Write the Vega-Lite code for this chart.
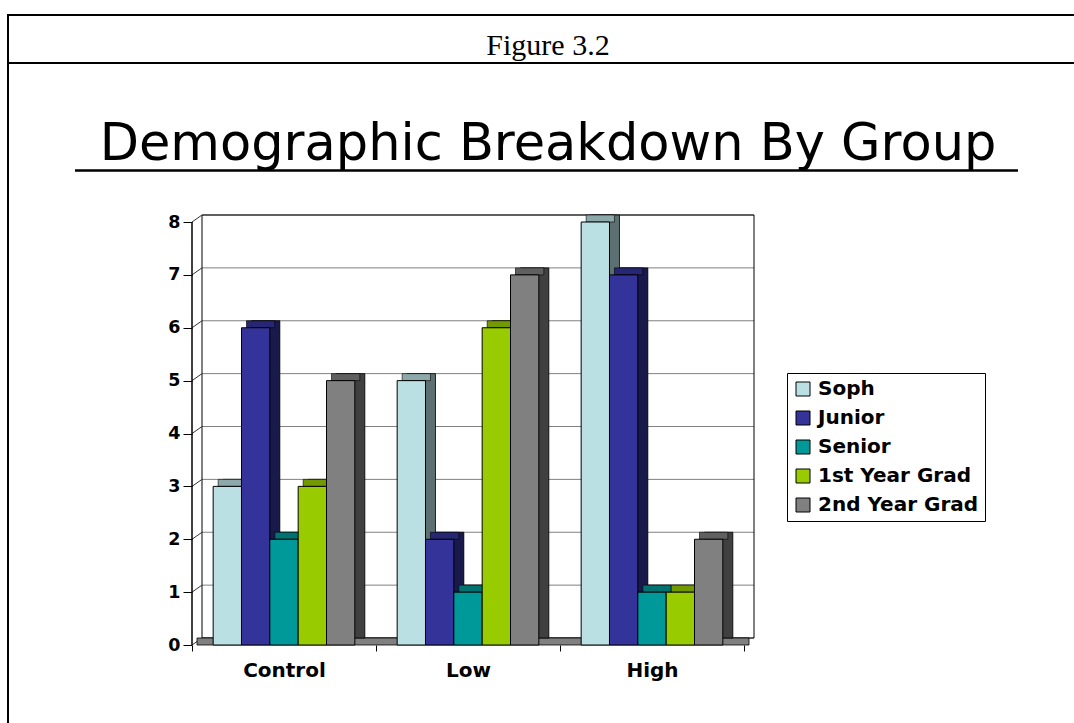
{
  "$schema": "https://vega.github.io/schema/vega-lite/v6.json",
  "background": "white",
  "padding": {"left": 7, "top": 14, "right": -15, "bottom": -3},
  "bounds": "flush",
  "spacing": 0,
  "config": {
    "view": {"stroke": "black", "strokeWidth": 2},
    "axis": {"labelFont": "DejaVu Sans", "labelFontWeight": "bold", "labelColor": "black", "tickColor": "black", "tickWidth": 1}
  },
  "datasets": {
    "bars": [
      {"group": "Control", "series": "Soph", "value": 3},
      {"group": "Control", "series": "Junior", "value": 6},
      {"group": "Control", "series": "Senior", "value": 2},
      {"group": "Control", "series": "1st Year Grad", "value": 3},
      {"group": "Control", "series": "2nd Year Grad", "value": 5},
      {"group": "Low", "series": "Soph", "value": 5},
      {"group": "Low", "series": "Junior", "value": 2},
      {"group": "Low", "series": "Senior", "value": 1},
      {"group": "Low", "series": "1st Year Grad", "value": 6},
      {"group": "Low", "series": "2nd Year Grad", "value": 7},
      {"group": "High", "series": "Soph", "value": 8},
      {"group": "High", "series": "Junior", "value": 7},
      {"group": "High", "series": "Senior", "value": 1},
      {"group": "High", "series": "1st Year Grad", "value": 1},
      {"group": "High", "series": "2nd Year Grad", "value": 2}
    ],
    "grid": [{"v": 0}, {"v": 1}, {"v": 2}, {"v": 3}, {"v": 4}, {"v": 5}, {"v": 6}, {"v": 7}, {"v": 8}],
    "hdr": [{"t": "Figure 3.2"}]
  },
  "vconcat": [
    {
      "width": 1080,
      "height": 48,
      "view": {"stroke": "black", "strokeWidth": 2},
      "data": {"name": "hdr"},
      "mark": {"type": "text", "font": "Liberation Serif", "fontSize": 30, "baseline": "alphabetic", "dy": 16, "color": "black"},
      "encoding": {
        "x": {"datum": 0.5, "type": "quantitative", "scale": {"domain": [0, 1], "nice": false, "zero": false}, "axis": null},
        "y": {"datum": 0.5, "type": "quantitative", "scale": {"domain": [0, 1], "nice": false, "zero": false}, "axis": null},
        "text": {"field": "t", "type": "nominal"}
      }
    },
    {
      "width": 1080,
      "height": 662,
      "title": {"text": "Demographic Breakdown By Group", "font": "DejaVu Sans", "fontSize": 51, "fontWeight": "normal", "color": "black", "anchor": "middle", "frame": "group", "baseline": "alphabetic", "offset": -148},
      "resolve": {"scale": {"x": "independent", "y": "independent", "color": "independent"}},
      "layer": [
        {
          "data": {"name": "grid"},
          "mark": {"type": "rule", "color": "#808080", "strokeWidth": 1},
          "encoding": {
            "x": {"datum": 0, "type": "quantitative", "scale": {"domain": [0, 1], "range": [194, 746], "nice": false, "zero": false}, "axis": null},
            "x2": {"datum": 1},
            "y": {"field": "v", "type": "quantitative", "scale": {"domain": [0, 8], "range": [575, 152], "nice": false, "zero": false}, "axis": null}
          }
        },
        {
          "data": {"name": "hdr"},
          "mark": {"type": "rect", "fill": "white", "fillOpacity": 0, "stroke": "black", "strokeWidth": 1},
          "encoding": {
            "x": {"datum": 0, "type": "quantitative", "scale": {"domain": [0, 1], "range": [194, 746], "nice": false, "zero": false}, "axis": null},
            "x2": {"datum": 1},
            "y": {"datum": 0, "type": "quantitative", "scale": {"domain": [0, 8], "range": [575, 152], "nice": false, "zero": false}, "axis": null},
            "y2": {"datum": 8}
          }
        },
        {
          "data": {"name": "grid"},
          "mark": {"type": "rule", "color": "#333333", "strokeWidth": 1, "yOffset": 7},
          "encoding": {
            "x": {"datum": 0, "type": "quantitative", "scale": {"domain": [0, 1], "range": [184, 194], "nice": false, "zero": false}, "axis": null},
            "x2": {"datum": 1},
            "y": {"field": "v", "type": "quantitative", "scale": {"domain": [0, 8], "range": [575, 152], "nice": false, "zero": false}, "axis": null},
            "y2": {"field": "v"}
          }
        },
        {
          "data": {"name": "hdr"},
          "mark": {"type": "rule", "color": "black", "strokeWidth": 1.5, "yOffset": 7, "y2Offset": 7},
          "encoding": {
            "x": {"datum": 0, "type": "quantitative", "scale": {"domain": [0, 1], "range": [184, 194], "nice": false, "zero": false}, "axis": null},
            "y": {"datum": 0, "type": "quantitative", "scale": {"domain": [0, 8], "range": [575, 152], "nice": false, "zero": false}, "axis": null},
            "y2": {"datum": 8}
          }
        },
        {
          "data": {"name": "hdr"},
          "mark": {"type": "rect", "fill": "#808080", "stroke": "black", "strokeWidth": 0.8, "y2Offset": 7},
          "encoding": {
            "x": {"datum": 0, "type": "quantitative", "scale": {"domain": [0, 1], "range": [189, 741], "nice": false, "zero": false}, "axis": null},
            "x2": {"datum": 1},
            "y": {"datum": 0, "type": "quantitative", "scale": {"domain": [0, 8], "range": [575, 152], "nice": false, "zero": false}, "axis": null},
            "y2": {"datum": 0}
          }
        },
        {
          "data": {"name": "bars"},
          "mark": {"type": "bar", "stroke": "black", "strokeWidth": 0.8},
          "encoding": {
            "x": {"field": "group", "type": "nominal", "scale": {"domain": ["Control", "Low", "High"], "range": [194, 746], "paddingInner": 0, "paddingOuter": 0}, "axis": null},
            "xOffset": {"field": "series", "type": "nominal", "scale": {"domain": ["Soph", "Junior", "Senior", "1st Year Grad", "2nd Year Grad"], "range": [0, 184], "paddingInner": 0, "paddingOuter": 0.747}},
            "y": {"field": "value", "type": "quantitative", "scale": {"domain": [0, 8], "range": [575, 152], "nice": false, "zero": false}, "axis": null},
            "y2": {"datum": 0},
            "color": {"field": "series", "type": "nominal", "scale": {"domain": ["Soph", "Junior", "Senior", "1st Year Grad", "2nd Year Grad"], "range": ["#BBE0E3", "#333399", "#009999", "#99CC00", "#808080"]}, "legend": null}
          }
        },
        {
          "data": {"name": "bars"},
          "mark": {"type": "bar", "fill": "black", "fillOpacity": 0.5, "strokeWidth": 0},
          "encoding": {
            "x": {"field": "group", "type": "nominal", "scale": {"domain": ["Control", "Low", "High"], "range": [194, 746], "paddingInner": 0, "paddingOuter": 0}, "axis": null},
            "xOffset": {"field": "series", "type": "nominal"},
            "y": {"field": "value", "type": "quantitative", "scale": {"domain": [0, 8], "range": [575, 152], "nice": false, "zero": false}, "axis": null},
            "y2": {"datum": 0}
          }
        },
        {
          "data": {"name": "bars"},
          "mark": {"type": "bar", "stroke": "black", "strokeWidth": 0.6, "y2Offset": 7},
          "encoding": {
            "x": {"field": "group", "type": "nominal", "scale": {"domain": ["Control", "Low", "High"], "range": [189, 741], "paddingInner": 0, "paddingOuter": 0}, "axis": null},
            "xOffset": {"field": "series", "type": "nominal"},
            "y": {"field": "value", "type": "quantitative", "scale": {"domain": [0, 8], "range": [575, 152], "nice": false, "zero": false}, "axis": null},
            "y2": {"field": "value"},
            "color": {"field": "series", "type": "nominal", "scale": {"domain": ["Soph", "Junior", "Senior", "1st Year Grad", "2nd Year Grad"], "range": ["#BBE0E3", "#333399", "#009999", "#99CC00", "#808080"]}, "legend": null}
          }
        },
        {
          "data": {"name": "bars"},
          "mark": {"type": "bar", "fill": "black", "fillOpacity": 0.25, "strokeWidth": 0, "y2Offset": 7},
          "encoding": {
            "x": {"field": "group", "type": "nominal", "scale": {"domain": ["Control", "Low", "High"], "range": [189, 741], "paddingInner": 0, "paddingOuter": 0}, "axis": null},
            "xOffset": {"field": "series", "type": "nominal"},
            "y": {"field": "value", "type": "quantitative", "scale": {"domain": [0, 8], "range": [575, 152], "nice": false, "zero": false}, "axis": null},
            "y2": {"field": "value"}
          }
        },
        {
          "data": {"name": "bars"},
          "mark": {"type": "bar", "stroke": "black", "strokeWidth": 1, "yOffset": 7, "y2Offset": 7},
          "encoding": {
            "x": {"field": "group", "type": "nominal",
                  "scale": {"domain": ["Control", "Low", "High"], "range": [184, 736], "paddingInner": 0, "paddingOuter": 0},
                  "axis": {"orient": "bottom", "offset": -80, "domain": false, "grid": false, "tickBand": "extent", "tickSize": 6, "labelPadding": 9, "labelAngle": 0, "labelFontSize": 20, "title": null}},
            "xOffset": {"field": "series", "type": "nominal"},
            "y": {"field": "value", "type": "quantitative", "scale": {"domain": [0, 8], "range": [575, 152], "nice": false, "zero": false},
                  "axis": {"orient": "left", "offset": -184, "values": [0, 1, 2, 3, 4, 5, 6, 7, 8], "format": "d", "domain": false, "grid": false, "ticks": true, "labels": true, "labelOverlap": false, "tickSize": 9, "tickOffset": 7, "labelOffset": 0, "labelPadding": 3, "labelFontSize": 17.5, "title": null}},
            "y2": {"datum": 0},
            "color": {"field": "series", "type": "nominal",
                      "scale": {"domain": ["Soph", "Junior", "Senior", "1st Year Grad", "2nd Year Grad"], "range": ["#BBE0E3", "#333399", "#009999", "#99CC00", "#808080"]},
                      "legend": {"orient": "none", "legendX": 779, "legendY": 310, "title": null, "strokeColor": "black", "fillColor": "white", "padding": 6, "labelFont": "DejaVu Sans", "labelFontWeight": "bold", "labelFontSize": 20, "labelColor": "black", "labelLimit": 400, "symbolType": "square", "symbolSize": 196, "symbolStrokeColor": "black", "symbolStrokeWidth": 1, "rowPadding": 9, "labelOffset": 5}}
          }
        },
        {
          "data": {"name": "hdr"},
          "mark": {"type": "rule", "color": "black", "strokeWidth": 2.5},
          "encoding": {
            "x": {"datum": 0, "type": "quantitative", "scale": {"domain": [0, 1], "range": [67, 1010], "nice": false, "zero": false}, "axis": null},
            "x2": {"datum": 1},
            "y": {"datum": 8.84, "type": "quantitative", "scale": {"domain": [0, 8], "range": [575, 152], "nice": false, "zero": false}, "axis": null}
          }
        }
      ]
    }
  ]
}
